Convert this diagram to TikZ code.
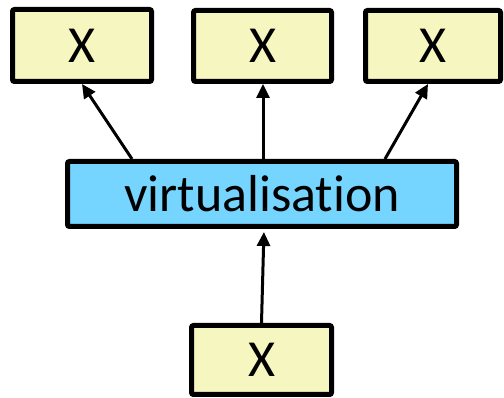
\documentclass[tikz,border=0pt]{standalone}
\usepackage{fontspec}
\setmainfont{Carlito}[Ligatures={NoCommon}]
\usetikzlibrary{arrows.meta}
\definecolor{boxyellow}{HTML}{F6F6C0}
\definecolor{boxblue}{HTML}{76D5FF}
\begin{document}
\begin{tikzpicture}[x=1pt,y=1pt,
  xbox/.style={draw=black, line width=5pt, fill=boxyellow, rounded corners=2pt,
    inner sep=0pt, font=\fontsize{52}{60}\selectfont},
  vbox/.style={draw=black, line width=5pt, fill=boxblue, rounded corners=2pt,
    inner sep=0pt, font=\fontsize{52}{60}\selectfont},
  conn/.style={line width=3pt, -{Triangle[length=14pt,width=13pt]}}]
\useasboundingbox (0,0) rectangle (504,398);
\node[xbox, minimum width=139pt, minimum height=72pt] (x1) at (82,352.5) {X};
\node[xbox, minimum width=138pt, minimum height=71pt] (x2) at (262.5,352) {X};
\node[xbox, minimum width=135pt, minimum height=71pt] (x3) at (433,352) {X};
\node[vbox, minimum width=389pt, minimum height=65pt] (v) at (262,204) {virtualisation};
\node[xbox, minimum width=140pt, minimum height=69pt] (x0) at (261.5,38) {X};
\draw[conn] ([xshift=-130pt]v.north) -- (x1.south);
\draw[conn] ([xshift=1pt]v.north) -- ([xshift=1pt]v.north |- x2.south);
\draw[conn] ([xshift=123pt]v.north) -- ([xshift=-5pt]x3.south);
\draw[conn, shorten >=3pt] (x0.north) -- ([xshift=2pt]v.south);
\end{tikzpicture}
\end{document}
